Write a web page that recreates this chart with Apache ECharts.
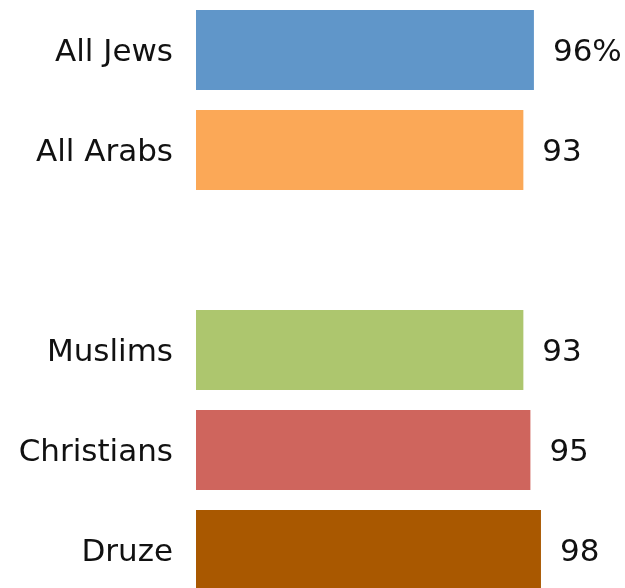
<!DOCTYPE html>
<html>
<head>
<meta charset="utf-8">
<script src="https://cdn.jsdelivr.net/npm/echarts@6/dist/echarts.min.js"></script>
<style>
  html, body { margin: 0; padding: 0; background: #fff; }
  #chart { width: 625px; height: 588px; }
</style>
</head>
<body>
<div id="chart"></div>
<script>
var categories = ['All Jews', 'All Arabs', '', 'Muslims', 'Christians', 'Druze'];
var values = [96, 93, null, 93, 95, 98];
var valueLabels = ['96%', '93', '', '93', '95', '98'];
var colors = ['#6096C9', '#FBA857', '#fff', '#ADC66E', '#CF655D', '#A95800'];

var myChart = echarts.init(document.getElementById('chart'));

var seriesData = values.map(function (v, i) {
    return {
        value: v,
        itemStyle: { color: colors[i] },
        label: { formatter: valueLabels[i] }
    };
});

var option = {
    animation: false,
    grid: {
        left: 196,
        top: 0,
        width: 352,
        height: 600,
        outerBoundsMode: 'none'
    },
    xAxis: {
        type: 'value',
        min: 0,
        max: 100,
        show: false
    },
    yAxis: {
        type: 'category',
        inverse: true,
        data: categories,
        axisLine: { show: false },
        axisTick: { show: false },
        axisLabel: {
            margin: 23,
            formatter: function (v) { return '{a|' + v + '}'; },
            rich: {
                a: {
                    fontSize: 31,
                    color: '#111',
                    padding: [6, 0, 0, 0],
                    fontFamily: 'DejaVu Sans'
                }
            }
        }
    },
    series: [{
        type: 'bar',
        barCategoryGap: '20%',
        data: seriesData,
        label: {
            show: true,
            position: 'right',
            distance: 19,
            fontSize: 31,
            color: '#111',
            offset: [0, 3],
            fontFamily: 'DejaVu Sans'
        }
    }]
};

myChart.setOption(option);
</script>
</body>
</html>
